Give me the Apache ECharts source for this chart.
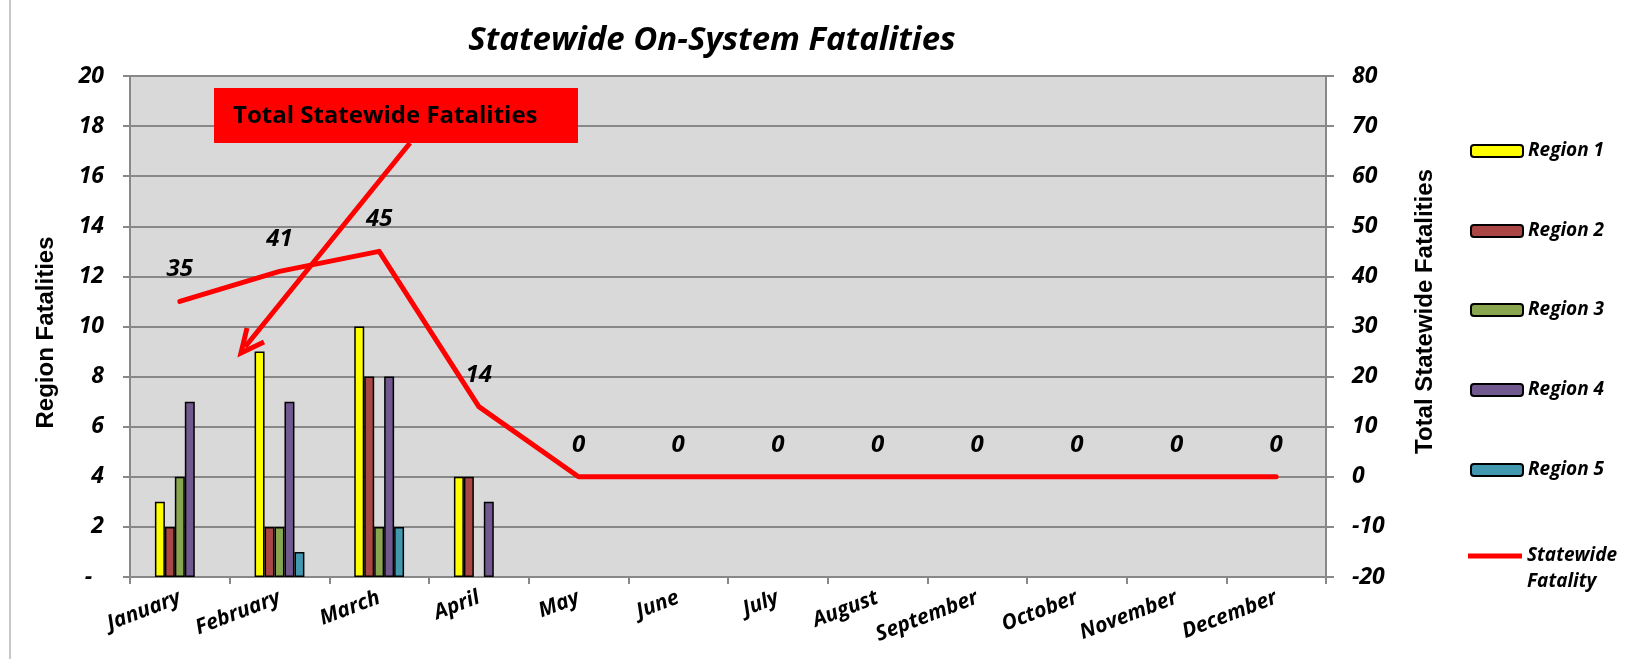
<!DOCTYPE html>
<html>
<head>
<meta charset="utf-8">
<script src="https://cdn.jsdelivr.net/npm/echarts@6/dist/echarts.min.js"></script>
<style>
html,body{margin:0;padding:0;background:#fff;}
#chart{width:1631px;height:659px;}
</style>
</head>
<body>
<div id="chart"></div>
<script>
// ---- data ----
var months = ['January','February','March','April','May','June','July','August','September','October','November','December'];
var region1 = [3, 9, 10, 4, null, null, null, null, null, null, null, null];
var region2 = [2, 2, 8, 4, null, null, null, null, null, null, null, null];
var region3 = [4, 2, 2, null, null, null, null, null, null, null, null, null];
var region4 = [7, 7, 8, 3, null, null, null, null, null, null, null, null];
var region5 = [null, 1, 2, null, null, null, null, null, null, null, null, null];
var statewide = [35, 41, 45, 14, 0, 0, 0, 0, 0, 0, 0, 0];
var regionNames = ['Region 1','Region 2','Region 3','Region 4','Region 5'];
var lineName = 'Statewide Fatality';
var leftTicks = {min: 0, max: 20, interval: 2};
var rightTicks = {min: -20, max: 80, interval: 10};

var regionColors = ['#FFFF00','#AA4643','#89A54E','#71588F','#4198AF'];
var FONT = 'Open Sans';
var NAMEFONT = 'Liberation Sans';

var chart = echarts.init(document.getElementById('chart'));
var regionData = [region1, region2, region3, region4, region5];

var series = regionData.map(function (d, i) {
  return {
    name: regionNames[i],
    type: 'bar',
    yAxisIndex: 0,
    data: d,
    barGap: '0%',
    barCategoryGap: '50%',
    itemStyle: {color: regionColors[i], borderColor: '#000', borderWidth: 1.5},
    emphasis: {disabled: true}
  };
});
series.push({
  name: lineName,
  type: 'line',
  yAxisIndex: 1,
  data: statewide,
  symbol: 'circle',
  symbolSize: 2,
  showSymbol: true,
  lineStyle: {color: '#FF0000', width: 5, cap: 'round', join: 'round'},
  itemStyle: {color: '#FF0000'},
  label: {
    show: true, position: 'top', distance: 19,
    fontFamily: FONT, fontWeight: 'bold', fontStyle: 'italic', fontSize: 24, color: '#000'
  },
  emphasis: {disabled: true},
  z: 5
});

var legendText = {fontFamily: FONT, fontWeight: 'bold', fontStyle: 'italic', fontSize: 19, color: '#000', lineHeight: 22};
var legendTops = [140, 220, 299, 379, 459];
var legends = regionNames.map(function (n, i) {
  return {
    data: [n], left: 1470, top: legendTops[i], padding: 0,
    itemWidth: 52, itemHeight: 12, selectedMode: false,
    textStyle: legendText
  };
});
legends.push({
  data: [{name: lineName, icon: 'rect'}], left: 1468, top: 517, padding: 0,
  itemWidth: 54, itemHeight: 5, selectedMode: false,
  formatter: function () { return ' \nStatewide\nFatality'; },
  textStyle: Object.assign({}, legendText, {lineHeight: 26})
});

var axisLabelStyle = {fontFamily: FONT, fontWeight: 'bold', fontStyle: 'italic', fontSize: 23, color: '#000'};

var option = {
  backgroundColor: '#fff',
  animation: false,
  title: {
    text: 'Statewide On-System Fatalities',
    left: 707, top: 19, textAlign: 'center',
    textStyle: {fontFamily: FONT, fontWeight: 'bold', fontStyle: 'italic', fontSize: 33, color: '#000'}
  },
  legend: legends,
  grid: {left: 130, right: 305, top: 76, bottom: 82, show: true, backgroundColor: '#D9D9D9', borderWidth: 0},
  xAxis: {
    type: 'category', data: months, boundaryGap: true,
    axisLine: {lineStyle: {color: '#888', width: 2}},
    axisTick: {show: true, length: 7, lineStyle: {color: '#888', width: 2}},
    axisLabel: {interval: 0, rotate: 21, margin: 20, fontFamily: FONT, fontWeight: 'bold', fontStyle: 'italic', fontSize: 21, color: '#000'},
    splitLine: {show: false}
  },
  yAxis: [{
    type: 'value', position: 'left', min: leftTicks.min, max: leftTicks.max, interval: leftTicks.interval,
    name: 'Region Fatalities', nameLocation: 'middle', nameGap: 72, nameRotate: 90,
    nameTextStyle: {fontFamily: NAMEFONT, fontWeight: 'bold', fontSize: 24, color: '#000', padding: [0, 12, 0, 0]},
    axisLine: {show: true, lineStyle: {color: '#888', width: 2}},
    axisTick: {show: true, length: 7, lineStyle: {color: '#888', width: 2}},
    axisLabel: Object.assign({margin: 26, formatter: function (v) { return v === 0 ? '-  ' : String(v); }}, axisLabelStyle),
    splitLine: {show: true, lineStyle: {color: '#888', width: 2}}
  }, {
    type: 'value', position: 'right', min: rightTicks.min, max: rightTicks.max, interval: rightTicks.interval,
    name: 'Total Statewide Fatalities', nameLocation: 'middle', nameGap: 87, nameRotate: 90,
    nameTextStyle: {fontFamily: NAMEFONT, fontWeight: 'bold', fontSize: 24, color: '#000', padding: [0, 0, 0, 30]},
    axisLine: {show: true, lineStyle: {color: '#888', width: 2}},
    axisTick: {show: true, length: 8, lineStyle: {color: '#888', width: 2}},
    axisLabel: Object.assign({margin: 26}, axisLabelStyle),
    splitLine: {show: false}
  }],
  graphic: [
    {type: 'line', shape: {x1: 10, y1: 0, x2: 10, y2: 659}, style: {stroke: '#c8c8c8', lineWidth: 2}, silent: true},
    {type: 'rect', shape: {x: 214, y: 88, width: 364, height: 55}, style: {fill: '#FF0000'}, z: 10, silent: true},
    {type: 'text', x: 233, y: 116, style: {text: 'Total Statewide Fatalities', fill: '#000', font: 'bold 24px "Open Sans"', textVerticalAlign: 'middle'}, z: 11, silent: true},
    {type: 'line', shape: {x1: 410, y1: 143, x2: 245, y2: 347}, style: {stroke: '#FF0000', lineWidth: 5}, z: 10, silent: true},
    {type: 'polyline', shape: {points: [[247, 328], [241, 353], [264, 342]]}, style: {stroke: '#FF0000', lineWidth: 5, fill: null, lineJoin: 'miter'}, z: 10, silent: true}
  ],
  series: series
};
chart.setOption(option);
</script>
</body>
</html>
